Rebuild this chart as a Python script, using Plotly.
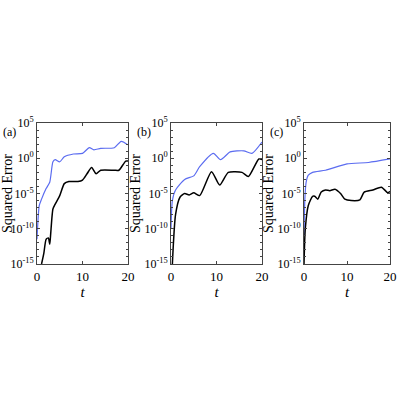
import numpy as np
import plotly.graph_objects as go

# log10 of squared error
t_blue_a = [0, 0.5, 1, 2, 2.8, 3.5, 4, 5, 6, 8, 10, 11.5, 12.5, 14, 17, 18.5, 20]
e_blue_a = [-11.5, -6.7, -5.8, -4.3, -3.4, -0.5, -0.2, -0.5, 0.2, 0.6, 0.7, 1.5, 1.2, 1.4, 1.5, 2.4, 1.9]
t_black_a = [1, 1.5, 2, 2.5, 2.8, 3, 3.5, 4, 5, 6, 7, 9, 10, 11, 12, 13, 14, 17, 18, 19.5, 20]
e_black_a = [-15, -13.5, -11.5, -11.3, -12.2, -10.8, -7.2, -6.5, -5.3, -3.6, -3.3, -3.3, -3.1, -2.2, -1.3, -2.2, -1.7, -1.7, -1.7, -0.4, -0.4]

t_blue_b = [0, 0.3, 1, 3, 5, 6.3, 9.3, 10.9, 13, 16, 17.8, 20]
e_blue_b = [-10, -6, -4.5, -3, -2.5, -1.2, 0.7, -0.2, 0.9, 1.05, 0.7, 2.3]
t_black_b = [0.3, 1, 2, 3, 4, 5, 6.3, 8.9, 10.7, 12.6, 15.6, 17, 19.3, 20]
e_black_b = [-15, -8, -5.5, -5, -5.2, -4.9, -5.3, -1.9, -3.8, -2, -2, -2.6, -0.1, -0.2]

t_blue_c = [0, 0.2, 0.5, 1, 2, 5, 10, 15, 20]
e_blue_c = [-11, -5.8, -3.4, -2.4, -2, -1.7, -0.8, -0.6, -0.1]
t_black_c = [0, 0.3, 1, 2, 2.5, 3.2, 4, 5, 6, 7.2, 8.5, 9.5, 11, 13, 14, 16, 18, 19.5, 20]
e_black_c = [-15, -10, -6.7, -5.4, -5.4, -5.8, -4.8, -4.5, -4.6, -4.4, -5, -5.8, -6, -5.9, -4.8, -4.5, -4.1, -4.9, -4.7]

panels = ["(a)", "(b)", "(c)"]
tick_vals = [1e-15, 1e-10, 1e-5, 1, 1e5]
tick_text = ["10<sup>-15</sup>", "10<sup>-10</sup>", "10<sup>-5</sup>", "10<sup>0</sup>", "10<sup>5</sup>"]

data = [
    (t_blue_a, e_blue_a, t_black_a, e_black_a),
    (t_blue_b, e_blue_b, t_black_b, e_black_b),
    (t_blue_c, e_blue_c, t_black_c, e_black_c),
]
domains = [(0.0925, 0.32), (0.4275, 0.655), (0.76, 0.975)]

fig = go.Figure()
layout = {}
for i, (tb, eb, tk, ek) in enumerate(data):
    n = "" if i == 0 else str(i + 1)
    fig.add_trace(go.Scatter(x=tb, y=10 ** np.array(eb), mode="lines", line=dict(color="#5b6cf0", width=1.2, shape="spline", smoothing=0.6),
                             xaxis="x" + n, yaxis="y" + n, showlegend=False))
    fig.add_trace(go.Scatter(x=tk, y=10 ** np.array(ek), mode="lines", line=dict(color="black", width=1.5, shape="spline", smoothing=0.6),
                             xaxis="x" + n, yaxis="y" + n, showlegend=False))
    layout["xaxis" + n] = dict(domain=domains[i], range=[0, 20], anchor="y" + n, tickvals=[0, 10, 20],
                               ticks="inside", ticklen=3, mirror="ticks", showline=True, linecolor="#444",
                               showgrid=False, zeroline=False, automargin=False, tickfont=dict(size=13),
                               title=dict(text="<i>t</i>", standoff=0, font=dict(size=15)))
    layout["yaxis" + n] = dict(domain=[0.34, 0.6925], type="log", range=[-15, 5], anchor="x" + n,
                               tickvals=tick_vals, ticktext=tick_text, ticks="inside", ticklen=3,
                               mirror="ticks", showline=True, linecolor="#444", showgrid=False,
                               automargin=False, tickfont=dict(size=12),
                               minor=dict(ticks="inside", ticklen=2, tickvals=[10.0 ** k for k in range(-15, 6)], showgrid=False),
                               title=dict(text="Squared Error", standoff=0, font=dict(size=14)))
    fig.add_annotation(text=panels[i], x=domains[i][0] - 0.09, y=0.67, xref="paper", yref="paper",
                       showarrow=False, xanchor="left", yanchor="middle", font=dict(size=12))

fig.update_layout(**layout, width=400, height=400, margin=dict(l=0, r=0, t=0, b=0),
                  plot_bgcolor="white", paper_bgcolor="white",
                  font=dict(family="Liberation Serif", size=12, color="black"))
fig.write_html("out.html", config={"displayModeBar": False},
               post_script="document.body.style.margin='0';")
